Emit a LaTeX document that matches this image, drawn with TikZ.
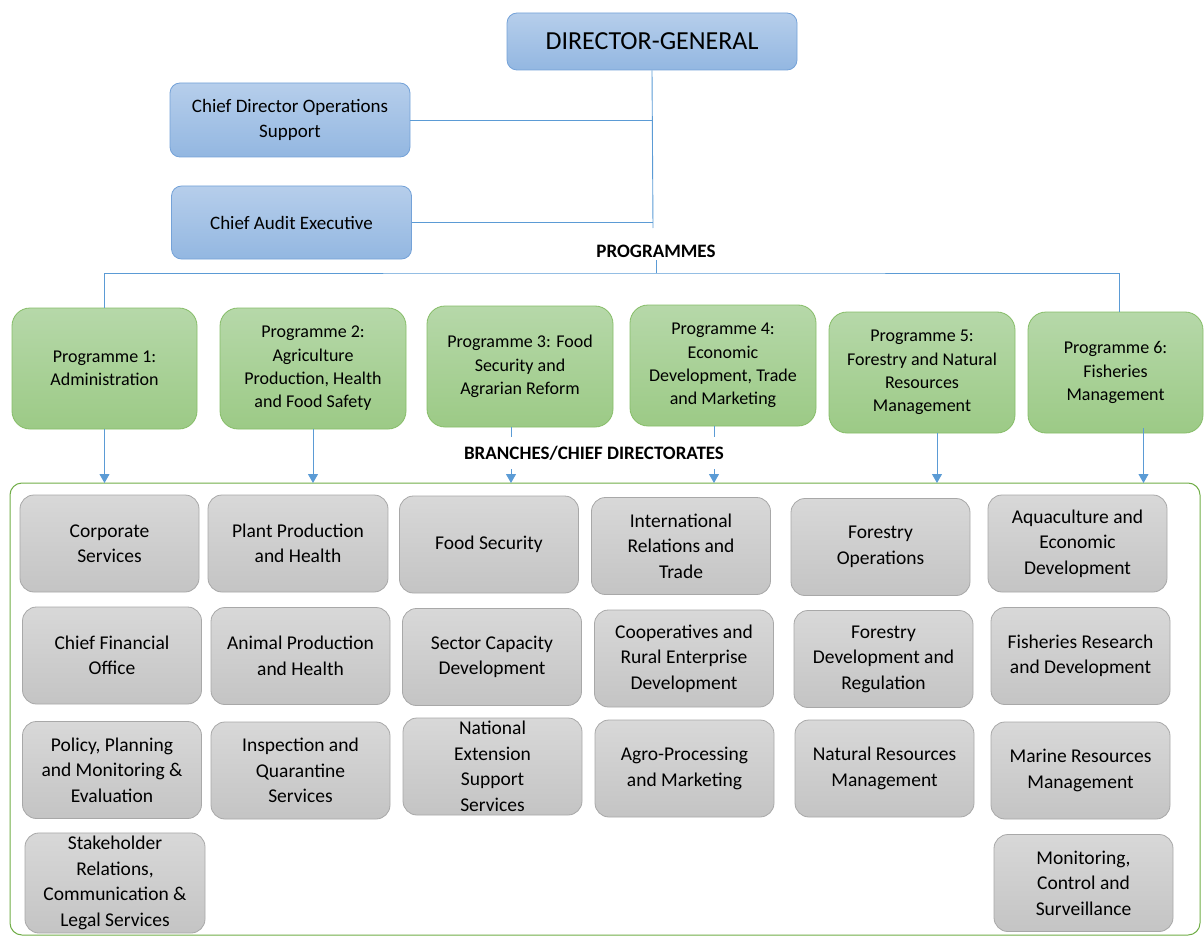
\documentclass[tikz,border=0pt]{standalone}
\usepackage{fontspec}
\setmainfont{Carlito}
\usepackage{xcolor}
\definecolor{colBlueTop}{HTML}{B6CEEB}
\definecolor{colBlueBot}{HTML}{93B7E1}
\definecolor{colBlueLine}{HTML}{74A2D8}
\definecolor{colGreenTop}{HTML}{B6D8A9}
\definecolor{colGreenBot}{HTML}{9CCA86}
\definecolor{colGreenLine}{HTML}{86BD68}
\definecolor{colGrayTop}{HTML}{D8D8D8}
\definecolor{colGrayBot}{HTML}{C4C4C4}
\definecolor{colGrayLine}{HTML}{A8A8A8}
\definecolor{colLink}{HTML}{5B9BD5}
\definecolor{colFrame}{HTML}{70AD47}
\usepackage{tikz}
\usetikzlibrary{arrows.meta, positioning, calc}

\begin{document}
\begin{tikzpicture}[x=1pt, y=-1pt,
		link/.style={draw=colLink, line width=0.9pt},
		arr/.style={link, -{Triangle[width=10pt,length=9pt]}},
		bluebox/.style={draw=colBlueLine, line width=0.8pt, rounded corners=10pt, top color=colBlueTop, bottom color=colBlueBot, align=center, minimum width=240pt, minimum height=74pt, font=\fontsize{19}{25}\selectfont},
		progbox/.style={draw=colGreenLine, line width=0.8pt, rounded corners=18pt, top color=colGreenTop, bottom color=colGreenBot, align=center, minimum width=186pt, minimum height=121pt, font=\fontsize{18}{23.3}\selectfont},
		unitbox/.style={draw=colGrayLine, line width=0.8pt, rounded corners=14pt, top color=colGrayTop, bottom color=colGrayBot, align=center, minimum width=179pt, minimum height=97pt, font=\fontsize{19.5}{25.5}\selectfont},
		caption/.style={font=\fontsize{19}{21}\selectfont\bfseries, fill=white, inner sep=3pt}]
	\useasboundingbox (0,0) rectangle (1204,936);
	% top management
	\node[bluebox, minimum width=290pt, minimum height=57pt, font=\fontsize{26}{30}\selectfont] (dg) at (652,41.5) {DIRECTOR-GENERAL};
	\node[bluebox] (cdos) at (290,120) {Chief Director Operations\\Support};
	\node[bluebox, minimum height=73pt] (cae) at (291.5,222.5) {Chief Audit Executive};
	\coordinate (trunk) at (653,228);
	\draw[link] (dg.south) -- (trunk);
	\draw[link] (cdos.east) -- (cdos.east -| trunk);
	\draw[link] (cae.east) -- (cae.east -| trunk);
	\node[caption] (progs) at (656,251) {PROGRAMMES};
	% programmes
	\node[progbox, minimum width=185pt] (p1) at (104.5,368.5) {Programme 1:\\Administration};
	\node[progbox] (p2) at (313,368.5) {Programme 2:\\Agriculture\\Production, Health\\and Food Safety};
	\node[progbox] (p3) at (520,366.5) {Programme 3: Food\\Security and\\Agrarian Reform};
	\node[progbox] (p4) at (723,365.5) {Programme 4:\\Economic\\Development, Trade\\and Marketing};
	\node[progbox] (p5) at (922,372.5) {Programme 5:\\Forestry and Natural\\Resources\\Management};
	\node[progbox, minimum width=175pt] (p6) at (1115.5,372.5) {Programme 6:\\Fisheries\\Management};
	\coordinate (bus) at (656,273);
	\draw[link] (progs.south) -- (bus);
	\draw[link] (p1.north) |- (bus) -| ([xshift=4pt]p6.north);
	% branches frame
	\draw[colFrame, line width=1pt, rounded corners=12pt] (10,483) rectangle (1200,935);
	\coordinate (frame) at (600,483);
	\draw[arr] (p1.south) -- (p1.south |- frame);
	\draw[arr] (p2.south) -- (p2.south |- frame);
	\draw[arr] ([xshift=-9pt]p3.south) -- ([xshift=-9pt]p3.south |- frame);
	\draw[arr] ([xshift=-9pt]p4.south) -- ([xshift=-9pt]p4.south |- frame);
	\draw[arr] ([xshift=15pt]p5.south) -- ([xshift=15pt]p5.south |- frame);
	\draw[arr] ([xshift=28pt,yshift=5pt]p6.south) -- ([xshift=28pt]p6.south |- frame);
	\node[caption, inner ysep=9pt] (branches) at (594,453) {BRANCHES/CHIEF DIRECTORATES};
	% column 1
	\node[unitbox] (corp) at (109.5,543.5) {Corporate\\Services};
	\node[unitbox] (cfo) at (112,655.5) {Chief Financial\\Office};
	\node[unitbox] (ppme) at (112,770) {Policy, Planning\\and Monitoring \&\\Evaluation};
	\node[unitbox, minimum width=180pt] (srcl) at (115,883) {Stakeholder\\Relations,\\Communication \&\\Legal Services};
	% column 2
	\node[unitbox, minimum width=180pt] (pph) at (298,543.5) {Plant Production\\and Health};
	\node[unitbox] (aph) at (300.5,656) {Animal Production\\and Health};
	\node[unitbox] (iqs) at (300.5,770.5) {Inspection and\\Quarantine\\Services};
	% column 3
	\node[unitbox] (fs) at (489,544.5) {Food Security};
	\node[unitbox] (scd) at (492,657) {Sector Capacity\\Development};
	\node[unitbox] (ness) at (492.5,766.5) {National\\Extension\\Support\\Services};
	% column 4
	\node[unitbox] (irt) at (681,546) {International\\Relations and\\Trade};
	\node[unitbox] (cred) at (684,658.5) {Cooperatives and\\Rural Enterprise\\Development};
	\node[unitbox] (apm) at (684.5,768.5) {Agro-Processing\\and Marketing};
	% column 5
	\node[unitbox] (fo) at (880.5,547) {Forestry\\Operations};
	\node[unitbox] (fdr) at (883.5,659) {Forestry\\Development and\\Regulation};
	\node[unitbox] (nrm) at (884.5,768.5) {Natural Resources\\Management};
	% column 6
	\node[unitbox] (aed) at (1077.5,543.5) {Aquaculture and\\Economic\\Development};
	\node[unitbox] (frd) at (1080.5,656) {Fisheries Research\\and Development};
	\node[unitbox] (mrm) at (1080.5,770.5) {Marine Resources\\Management};
	\node[unitbox] (mcs) at (1083.5,883) {Monitoring,\\Control and\\Surveillance};
\end{tikzpicture}
\end{document}
